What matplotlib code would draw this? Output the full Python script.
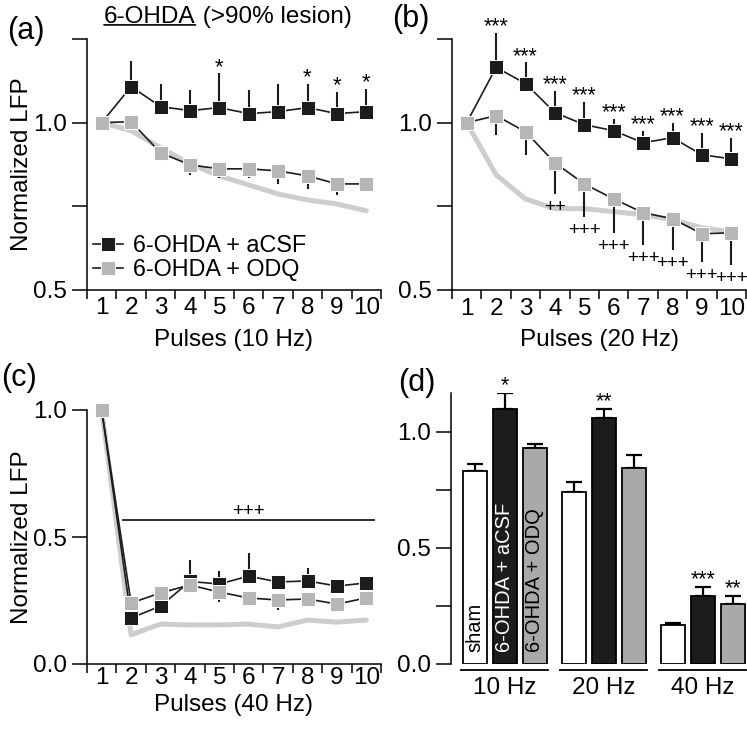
import matplotlib
matplotlib.use('Agg')
import matplotlib.pyplot as plt
from matplotlib.lines import Line2D
import numpy as np

plt.rcParams['font.family'] = ['Liberation Sans', 'DejaVu Sans']

# ---- data ----
pulses = np.arange(1, 11)
pulse_labels = [str(p) for p in pulses]

# (a) 10 Hz
a_acsf = [1.0, 1.108, 1.048, 1.036, 1.045, 1.027, 1.033, 1.045, 1.027, 1.033]
a_acsf_err = [0, 0.075, 0.069, 0.063, 0.102, 0.072, 0.084, 0.072, 0.066, 0.069]
a_odq = [1.0, 1.003, 0.910, 0.874, 0.862, 0.862, 0.856, 0.841, 0.817, 0.817]
a_odq_err = [0, 0, 0, 0.030, 0.027, 0.027, 0.039, 0.039, 0.033, 0]
a_sham = [1.0, 0.976, 0.925, 0.877, 0.841, 0.814, 0.787, 0.769, 0.757, 0.737]
a_stars = ['', '', '', '', '*', '', '', '*', '*', '*']

# (b) 20 Hz
b_acsf = [1.0, 1.165, 1.117, 1.030, 0.994, 0.976, 0.940, 0.955, 0.904, 0.892]
b_acsf_err = [0, 0.104, 0.063, 0.066, 0.069, 0.036, 0.036, 0.045, 0.066, 0.063]
b_odq = [1.0, 1.021, 0.973, 0.880, 0.817, 0.772, 0.731, 0.713, 0.668, 0.671]
b_odq_err = [0, 0.057, 0.069, 0.093, 0.098, 0.101, 0.096, 0.093, 0.084, 0.096]
b_sham = [1.0, 0.844, 0.772, 0.743, 0.743, 0.734, 0.725, 0.710, 0.686, 0.674]
b_stars = ['', '***', '***', '***', '***', '***', '***', '***', '***', '***']
b_plus = ['', '', '', '++', '+++', '+++', '+++', '+++', '+++', '+++']

# (c) 40 Hz
c_acsf = [1.0, 0.181, 0.228, 0.325, 0.315, 0.346, 0.323, 0.327, 0.307, 0.319]
c_acsf_err = [0, 0, 0, 0.084, 0.051, 0.091, 0.012, 0.051, 0, 0]
c_odq = [1.0, 0.240, 0.280, 0.311, 0.283, 0.260, 0.252, 0.256, 0.236, 0.260]
c_odq_err = [0, 0, 0, 0, 0.039, 0, 0.039, 0, 0, 0]
c_sham = [1.0, 0.115, 0.157, 0.154, 0.154, 0.157, 0.146, 0.173, 0.165, 0.173]

# (d) mean response
freqs = ['10 Hz', '20 Hz', '40 Hz']
groups = ['sham', '6-OHDA + aCSF', '6-OHDA + ODQ']
d_sham = [0.832, 0.741, 0.168]
d_sham_err = [0.030, 0.043, 0.009]
d_acsf = [1.099, 1.060, 0.293]
d_acsf_err = [0.069, 0.039, 0.039]
d_odq = [0.931, 0.845, 0.259]
d_odq_err = [0.017, 0.056, 0.034]
d_acsf_stars = ['*', '**', '***']
d_odq_stars = ['', '', '**']

legend_labels = ['6-OHDA + aCSF', '6-OHDA + ODQ']

# ---- style ----
BLACK = '#1c1c1c'
GRAY = '#b6b6b6'
SHAM = '#cdcdcd'
BARGRAY = '#a9a9a9'
FS = 17.5
LW = 1.1
MS = 10.5

W, H = 747, 729
fig = plt.figure(figsize=(W / 100, H / 100), dpi=100)


def px_axes(left, top, right, bottom):
    return fig.add_axes([left / W, 1 - bottom / H, (right - left) / W, (bottom - top) / H])


def style_axes(ax):
    for s in ['top', 'right']:
        ax.spines[s].set_visible(False)
    for s in ['left', 'bottom']:
        ax.spines[s].set_linewidth(LW)
    ax.tick_params(axis='y', length=11, width=LW, pad=3.5, labelsize=FS)
    ax.tick_params(axis='x', which='major', length=6.5, width=LW)
    ax.tick_params(axis='x', which='minor', length=0, labelsize=FS)


def pulse_panel(ax, acsf, acsf_err, odq, odq_err, sham, xpad):
    zeros = np.zeros(len(pulses))
    ax.plot(pulses, sham, color=SHAM, lw=3.6, solid_capstyle='round', zorder=1, clip_on=False)
    ax.errorbar(pulses, acsf, yerr=[zeros, acsf_err], fmt='none', ecolor=BLACK,
                elinewidth=1.5, capsize=0, zorder=2, clip_on=False)
    ax.plot(pulses, acsf, color=BLACK, lw=1.2, marker='s', ms=MS, mfc=BLACK,
            mec='white', mew=0.7, zorder=3, clip_on=False)
    ax.errorbar(pulses, odq, yerr=[odq_err, zeros], fmt='none', ecolor=BLACK,
                elinewidth=1.5, capsize=0, zorder=4, clip_on=False)
    ax.plot(pulses, odq, color=BLACK, lw=1.2, marker='s', ms=MS, mfc=GRAY,
            mec='white', mew=0.7, zorder=5, clip_on=False)
    ax.set_xlim(0.5, 10.5)
    ax.set_xticks(np.arange(0.5, 11, 1.0))
    ax.set_xticklabels([])
    ax.set_xticks(pulses, minor=True)
    ax.set_xticklabels(pulse_labels, minor=True)
    style_axes(ax)
    ax.tick_params(axis='x', which='minor', pad=xpad)


def star_marks(ax, vals, errs, marks, sign, fs, off):
    for x, v, e, m in zip(pulses, vals, errs, marks):
        if m:
            ax.annotate(m, xy=(x, v + sign * e), xytext=(0, off), textcoords='offset points',
                        ha='center', va='baseline', fontsize=fs, annotation_clip=False)


# ---- (a) ----
ax_a = px_axes(87, 39, 381, 290)
pulse_panel(ax_a, a_acsf, a_acsf_err, a_odq, a_odq_err, a_sham, 5)
ax_a.set_ylim(0.5, 1.25)
ax_a.set_yticks([0.5, 0.75, 1.0, 1.25])
ax_a.set_yticklabels(['0.5', '', '1.0', ''])
ax_a.set_ylabel('Normalized LFP', fontsize=FS)
ax_a.yaxis.set_label_coords(-0.185, 0.5)
ax_a.set_xlabel('Pulses (10 Hz)', fontsize=FS)
ax_a.xaxis.set_label_coords(0.5, -0.155)
star_marks(ax_a, a_acsf, a_acsf_err, a_stars, 1, 16, 0.5)
handles = [Line2D([], [], color=BLACK, lw=1.2, marker='s', ms=MS, mfc=c, mec='white', mew=0.7)
           for c in [BLACK, GRAY]]
ax_a.legend(handles, legend_labels, loc='lower left', bbox_to_anchor=(0.02, 0.035),
            frameon=False, fontsize=16.8, handlelength=1.3, handletextpad=0.4,
            labelspacing=0.05, borderpad=0, borderaxespad=0)

# ---- (b) ----
ax_b = px_axes(452, 39, 746, 290)
pulse_panel(ax_b, b_acsf, b_acsf_err, b_odq, b_odq_err, b_sham, 6)
ax_b.set_ylim(0.5, 1.25)
ax_b.set_yticks([0.5, 0.75, 1.0, 1.25])
ax_b.set_yticklabels(['0.5', '', '1.0', ''])
ax_b.set_xlabel('Pulses (20 Hz)', fontsize=FS)
ax_b.xaxis.set_label_coords(0.5, -0.155)
star_marks(ax_b, b_acsf, b_acsf_err, b_stars, 1, 15.5, 0.5)
star_marks(ax_b, b_odq, b_odq_err, b_plus, -1, 13.5, -13)

# ---- (c) ----
ax_c = px_axes(87, 410, 381, 664)
pulse_panel(ax_c, c_acsf, c_acsf_err, c_odq, c_odq_err, c_sham, 2.5)
ax_c.set_ylim(0, 1.0)
ax_c.set_yticks([0, 0.5, 1.0])
ax_c.set_yticklabels(['0.0', '0.5', '1.0'])
ax_c.set_ylabel('Normalized LFP', fontsize=FS)
ax_c.yaxis.set_label_coords(-0.185, 0.5)
ax_c.set_xlabel('Pulses (40 Hz)', fontsize=FS)
ax_c.xaxis.set_label_coords(0.5, -0.12)
ax_c.plot([1.72, 10.26], [0.567, 0.567], color=BLACK, lw=1.3, clip_on=False)
ax_c.text(5.98, 0.567, '+++', ha='center', va='bottom', fontsize=13.5)

# ---- (d) ----
ax_d = px_axes(451, 393, 747, 664)
for s in ['top', 'right', 'bottom']:
    ax_d.spines[s].set_visible(False)
ax_d.spines['left'].set_linewidth(LW)
ax_d.tick_params(axis='y', length=11, width=LW, pad=3.5, labelsize=FS)
ax_d.set_xticks([])
ax_d.set_xlim(0, 9.87)
ax_d.set_ylim(0, 1.168)
ax_d.set_yticks([0, 0.25, 0.5, 0.75, 1.0])
ax_d.set_yticklabels(['0.0', '', '0.5', '', '1.0'])

group_x = 0.8 + 3.3 * np.arange(len(freqs))
bw = 0.82
series = [(d_sham, d_sham_err, 'white', 'black'),
          (d_acsf, d_acsf_err, BLACK, 'white'),
          (d_odq, d_odq_err, BARGRAY, 'black')]
for i, (vals, errs, fc, tc) in enumerate(series):
    xs = group_x + i * 1.0
    ax_d.bar(xs, vals, width=bw, color=fc, edgecolor='black', linewidth=1.3, zorder=2)
    ax_d.errorbar(xs, vals, yerr=[np.zeros(len(vals)), errs], fmt='none', ecolor='black',
                  elinewidth=1.6, capsize=6, capthick=1.6, zorder=1)
    ax_d.text(xs[0], 0.05, groups[i], rotation=90, ha='center', va='bottom',
              color=tc, fontsize=14.5, zorder=3)
for stars, vals, errs, off in [(d_acsf_stars, d_acsf, d_acsf_err, 1.0),
                               (d_odq_stars, d_odq, d_odq_err, 2.0)]:
    for g, m in enumerate(stars):
        if m:
            ax_d.annotate(m, xy=(group_x[g] + off, vals[g] + errs[g]), xytext=(0, 1.0),
                          textcoords='offset points', ha='center', va='baseline', fontsize=15.5)
for g, f in enumerate(freqs):
    ax_d.plot([group_x[g] - 0.45, group_x[g] + 2.45], [-0.026, -0.026], color='black',
              lw=1.3, clip_on=False)
    ax_d.text(group_x[g] + 1.0, -0.105, f, ha='center', va='center', fontsize=FS)

# ---- panel labels and title ----
fig.text(7 / W, 1 - 31 / H, '(a)', fontsize=22, va='center')
fig.text(392 / W, 1 - 19 / H, '(b)', fontsize=22, va='center')
fig.text(1 / W, 1 - 378 / H, '(c)', fontsize=22, va='center')
fig.text(398 / W, 1 - 383 / H, '(d)', fontsize=22, va='center')

# title with "6-OHDA" underlined
t1 = fig.text(104 / W, 1 - 23 / H, '6-OHDA', fontsize=FS, va='baseline')
ax_a.annotate(' (>90% lesion)', xy=(1, 0), xycoords=t1, va='bottom', ha='left',
              fontsize=FS, annotation_clip=False)
ax_a.annotate('', xy=(0, 0.14), xycoords=t1, xytext=(1, 0.14), textcoords=t1,
              arrowprops=dict(arrowstyle='-', lw=1.2, shrinkA=0, shrinkB=0),
              annotation_clip=False)

fig.savefig('out.png', dpi=100)
